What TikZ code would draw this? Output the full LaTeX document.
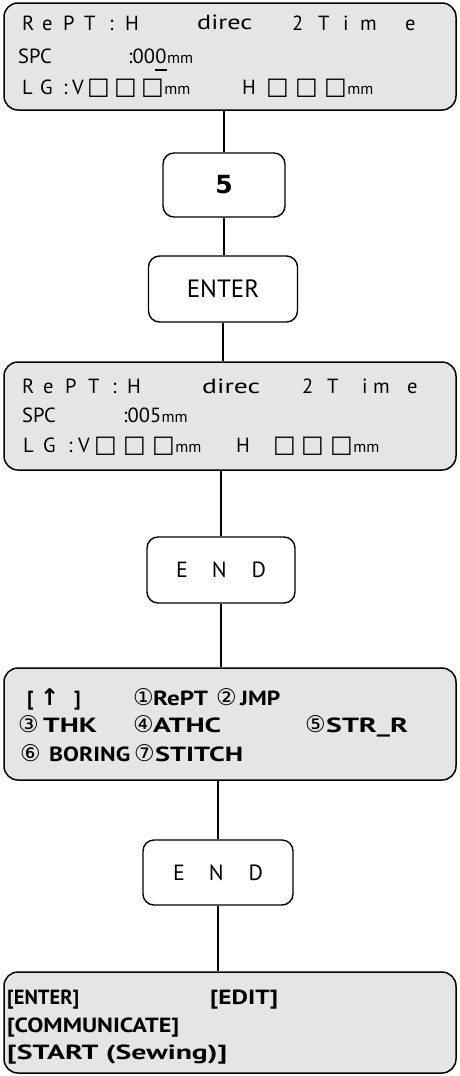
\documentclass[tikz,border=0pt]{standalone}
\usepackage{fontspec}
\usepackage{graphicx}
\setmainfont{PT Sans}
\newfontfamily\symf{DejaVu Sans}
\newcommand\sx[2]{\resizebox{#1pt}{\height}{#2}}
\begin{document}
\begin{tikzpicture}[x=1pt,y=-1pt,
  lcd/.style={draw, line width=1.5pt, rounded corners=14pt, fill=gray!20, minimum width=452pt, inner sep=0pt},
  btn/.style={draw, line width=1.4pt, rounded corners=11pt, fill=white, inner sep=0pt},
  lt/.style={anchor=base west, inner sep=0pt, font=\fontsize{20.5}{21}\selectfont},
  bt/.style={anchor=base west, inner sep=0pt, font=\bfseries\fontsize{20.5}{21}\selectfont},
  ct/.style={anchor=base west, inner sep=0pt, font=\symf\fontsize{23}{23}\selectfont},
  sq/.style={anchor=base west, inner sep=0pt, font=\symf\fontsize{24}{24}\selectfont},
  sm/.style={anchor=base west, inner sep=0pt, font=\fontsize{16}{16}\selectfont},
  conn/.style={line width=1.1pt}]
\useasboundingbox (0,0) rectangle (459,1076);
% boxes
\node[lcd, minimum height=107pt] (lcd1) at (230,56.5) {};
\node[btn, minimum width=122pt, minimum height=64pt, font=\symf\bfseries\fontsize{25}{25}\selectfont] (b5) at (224,185) {5};
\node[btn, minimum width=149pt, minimum height=66pt, font=\fontsize{25}{25}\selectfont] (benter) at (223,289) {ENTER};
\node[lcd, minimum height=108pt] (lcd2) at (230,416) {};
\node[btn, minimum width=148pt, minimum height=66pt, font=\fontsize{22}{22}\selectfont] (bend1) at (221,570) {E\hspace{24pt}N\hspace{25pt}D};
\node[lcd, minimum height=112pt] (lcd3) at (230,724) {};
\node[btn, minimum width=150pt, minimum height=65pt, font=\fontsize{22}{22}\selectfont] (bend2) at (218,872.5) {E\hspace{24pt}N\hspace{25pt}D};
\node[lcd, minimum height=101pt] (lcd4) at (230,1022.5) {};
% connectors
\draw[conn] (b5.north) -- (b5.north |- lcd1.south);
\draw[conn] (b5.south) -- (b5.south |- benter.north);
\draw[conn] (benter.south) -- (benter.south |- lcd2.north);
\draw[conn] (bend1.north) -- (bend1.north |- lcd2.south);
\draw[conn] (bend1.south) -- (bend1.south |- lcd3.north);
\draw[conn] (lcd3.south -| bend2.north) -- (bend2.north);
\draw[conn] (bend2.south) -- (bend2.south |- lcd4.north);
% box 1 text
\foreach \x/\c [count=\i] in {22/R,42/e,63/P,84/T,109/:,125/H,197/\sx{55}{direc},292/2,318/T,343/i,360/m,405/e}
  \node[lt] (a\i) at (\x,30) {\c};
\node[lt] (a13) at (18,63) {SPC};
\node[lt] (a14) at (128,63) {:00};
\node[lt] (a14b) at (a14.base east) {0};
\node[sm] (a15) at (a14b.base east) {mm};
\draw[line width=1.3pt] ([yshift=-7pt]a14b.base west) -- ([yshift=-7pt]a14b.base east);
\foreach \x/\c/\s [count=\i] in {22/L/lt,40/G/lt,63/:/lt,72/V/lt,87/□/sq,114/□/sq,141/□/sq,242/H/lt,266/□/sq,295/□/sq,324/□/sq}
  \node[\s] (a3\i) at (\x,94) {\c};
\node[sm] (a3m1) at (a37.base east) {mm};
\node[sm] (a3m2) at (a311.base east) {mm};
% box 2 text
\foreach \x/\c [count=\i] in {22/R,43/e,65/P,88/T,112/:,127/H,202/\sx{58}{direc},302/2,327/T,362/i,373/m,407/e}
  \node[lt] (b\i) at (\x,393) {\c};
\node[lt] (b13) at (22,422) {SPC};
\node[lt] (b14) at (123,422) {:005};
\node[sm] (b15) at (b14.base east) {mm};
\foreach \x/\c/\s [count=\i] in {23/L/lt,43/G/lt,68/:/lt,78/V/lt,94/□/sq,123/□/sq,152/□/sq,236/H/lt,273/□/sq,301/□/sq,330/□/sq}
  \node[\s] (b3\i) at (\x,452) {\c};
\node[sm] (b3m1) at (b37.base east) {mm};
\node[sm] (b3m2) at (b311.base east) {mm};
% box 3 text
\node[bt] (c11) at (27,705) {[};
\node[ct] (c12) at (40,705) {\bfseries ↑};
\node[bt] (c13) at (74,705) {]};
\node[ct] (c14) at (133,705) {①};
\node[bt] (c15) at (153,705) {\sx{55}{RePT}};
\node[ct] (c16) at (216,705) {②};
\node[bt] (c17) at (240,705) {\sx{40}{JMP}};
\node[ct] (c21) at (18,732) {③};
\node[bt] (c22) at (43,732) {\sx{54}{THK}};
\node[ct] (c23) at (133,732) {④};
\node[bt] (c24) at (153,732) {\sx{68}{ATHC}};
\node[ct] (c25) at (305,732) {⑤};
\node[bt] (c26) at (326,732) {\sx{82}{STR\_R}};
\node[ct] (c31) at (20,761) {⑥};
\node[bt] (c32) at (49,761) {\sx{81}{BORING}};
\node[ct] (c33) at (134,761) {⑦};
\node[bt] (c34) at (155,761) {\sx{88}{STITCH}};
% box 4 text
\node[bt] (d1) at (7,1004) {\sx{72}{[ENTER]}};
\node[bt] (d2) at (210,1004) {\sx{68}{[EDIT]}};
\node[bt] (d3) at (7,1032) {\sx{172}{[COMMUNICATE]}};
\node[bt] (d4) at (7,1059) {\sx{220}{[START (Sewing)]}};
\end{tikzpicture}
\end{document}
